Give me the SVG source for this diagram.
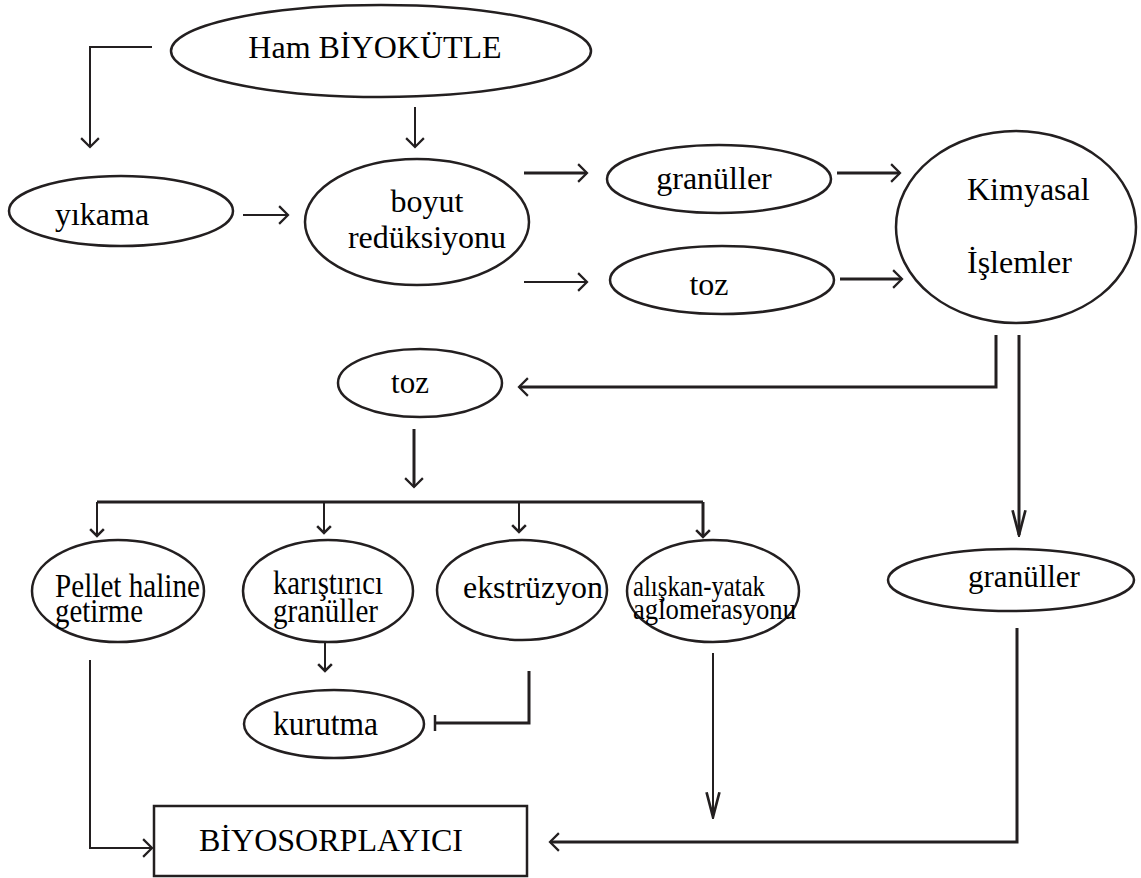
<svg xmlns="http://www.w3.org/2000/svg" width="1141" height="878" viewBox="0 0 1141 878">
<style>
  .n ellipse, .n rect { fill: #fff; stroke: #231f20; stroke-width: 2.5; }
  .n text { font-family: "Liberation Serif", "Times New Roman", serif; fill: #000; }
  .c path { fill: none; stroke: #231f20; stroke-width: 2; }
  .c .t { stroke-width: 3; }
</style>
<defs>
  <marker id="arr" markerUnits="userSpaceOnUse" markerWidth="14" markerHeight="20" viewBox="-1 -1 12 18" refX="9" refY="8" orient="auto">
    <path d="M1,0 L9,8 L1,16" fill="none" stroke="#231f20" stroke-width="2"/>
  </marker>
  <marker id="arrS" markerUnits="userSpaceOnUse" markerWidth="12" markerHeight="16" viewBox="-1 -1 10 14" refX="7" refY="6" orient="auto">
    <path d="M1,0 L7,6 L1,12" fill="none" stroke="#231f20" stroke-width="2.2"/>
  </marker>
  <marker id="arrL" markerUnits="userSpaceOnUse" markerWidth="28" markerHeight="16" viewBox="-1 -1 26 14" refX="23" refY="6" orient="auto">
    <path d="M0,0 L23,6 L0,12" fill="none" stroke="#231f20" stroke-width="2.5"/>
  </marker>
  <marker id="tee" markerUnits="userSpaceOnUse" markerWidth="6" markerHeight="20" viewBox="-3 -10 6 20" refX="0" refY="0" orient="auto">
    <path d="M0,-8 L0,8" fill="none" stroke="#231f20" stroke-width="2.5"/>
  </marker>
</defs>

<g id="connectors" class="c">
  <path d="M152,47 H90 V147" marker-end="url(#arr)"/>
  <path d="M415,107 V147" marker-end="url(#arr)"/>
  <path d="M243,215 H288" marker-end="url(#arr)"/>
  <path class="t" d="M524,173 H587" marker-end="url(#arr)"/>
  <path d="M524,282 H587" marker-end="url(#arr)"/>
  <path class="t" d="M837,173 H900" marker-end="url(#arr)"/>
  <path class="t" d="M840,279 H902" marker-end="url(#arr)"/>
  <path class="t" d="M996,335 V387 H519" marker-end="url(#arr)"/>
  <path class="t" d="M1019,335 V535" marker-end="url(#arrL)"/>
  <path class="t" d="M414,429 V487" marker-end="url(#arr)"/>
  <path class="t" d="M97,502 H703"/>
  <path d="M97,502 V536" marker-end="url(#arrS)"/>
  <path d="M324,502 V533" marker-end="url(#arrS)"/>
  <path d="M519,502 V532" marker-end="url(#arrS)"/>
  <path class="t" d="M703,502 V537" marker-end="url(#arrS)"/>
  <path d="M325,643 V671" marker-end="url(#arrS)"/>
  <path class="t" d="M529,671 V723 H435" marker-end="url(#tee)"/>
  <path d="M90,660 V848 H152" marker-end="url(#arr)"/>
  <path d="M713,653 V817" marker-end="url(#arrL)"/>
  <path class="t" d="M1017,628 V842 H550" marker-end="url(#arr)"/>
</g>

<g id="ham" class="n">
  <ellipse cx="381" cy="51" rx="210" ry="46"/>
  <text x="375" y="58" font-size="32" text-anchor="middle">Ham BİYOKÜTLE</text>
</g>
<g id="yikama" class="n">
  <ellipse cx="121" cy="211" rx="112" ry="35"/>
  <text x="102" y="225" font-size="32" text-anchor="middle">yıkama</text>
</g>
<g id="boyut" class="n">
  <ellipse cx="417" cy="222" rx="112" ry="63"/>
  <text x="427" y="212" font-size="32" text-anchor="middle">boyut</text>
  <text x="427" y="248" font-size="32" text-anchor="middle">redüksiyonu</text>
</g>
<g id="granuller1" class="n">
  <ellipse cx="719" cy="179" rx="112" ry="34"/>
  <text x="714" y="189" font-size="32" text-anchor="middle">granüller</text>
</g>
<g id="toz1" class="n">
  <ellipse cx="722" cy="280" rx="112" ry="34"/>
  <text x="709" y="295" font-size="32" text-anchor="middle">toz</text>
</g>
<g id="kimyasal" class="n">
  <ellipse cx="1016" cy="227" rx="120" ry="96"/>
  <text x="967" y="200" font-size="32">Kimyasal</text>
  <text x="967" y="273" font-size="32">İşlemler</text>
</g>
<g id="toz2" class="n">
  <ellipse cx="420" cy="383" rx="82" ry="34"/>
  <text x="410" y="393" font-size="31" text-anchor="middle">toz</text>
</g>
<g id="pellet" class="n">
  <ellipse cx="118" cy="591" rx="86" ry="51"/>
  <text x="55" y="597" font-size="34" textLength="145" lengthAdjust="spacingAndGlyphs">Pellet haline</text>
  <text x="55" y="622" font-size="34" textLength="88" lengthAdjust="spacingAndGlyphs">getirme</text>
</g>
<g id="karistirici" class="n">
  <ellipse cx="328" cy="591" rx="85" ry="51"/>
  <text x="273" y="594" font-size="34" textLength="110" lengthAdjust="spacingAndGlyphs">karıştırıcı</text>
  <text x="273" y="622" font-size="34" textLength="105" lengthAdjust="spacingAndGlyphs">granüller</text>
</g>
<g id="ekstruzyon" class="n">
  <ellipse cx="522" cy="590" rx="85" ry="50"/>
  <text x="463" y="598" font-size="31" textLength="140" lengthAdjust="spacingAndGlyphs">ekstrüzyon</text>
</g>
<g id="aliskan" class="n">
  <ellipse cx="713" cy="591" rx="86" ry="51"/>
  <text x="633" y="596" font-size="30" textLength="132" lengthAdjust="spacingAndGlyphs">alışkan-yatak</text>
  <text x="633" y="619" font-size="30" textLength="163" lengthAdjust="spacingAndGlyphs">aglomerasyonu</text>
</g>
<g id="kurutma" class="n">
  <ellipse cx="334" cy="724" rx="90" ry="34"/>
  <text x="273" y="735" font-size="34" textLength="105" lengthAdjust="spacingAndGlyphs">kurutma</text>
</g>
<g id="granuller2" class="n">
  <ellipse cx="1011" cy="580" rx="123" ry="31"/>
  <text x="1024" y="587" font-size="31" text-anchor="middle">granüller</text>
</g>
<g id="biyosorplayici" class="n">
  <rect x="154" y="806" width="373" height="70"/>
  <text x="199" y="851" font-size="31" textLength="264" lengthAdjust="spacingAndGlyphs">BİYOSORPLAYICI</text>
</g>
</svg>
